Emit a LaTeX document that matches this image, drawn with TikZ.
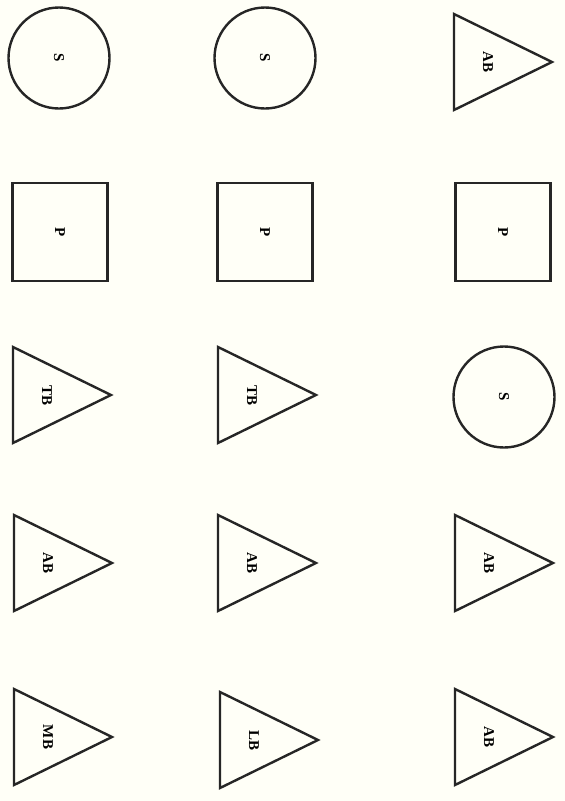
\documentclass[tikz,border=0pt]{standalone}
\usepackage{fontspec}
\setmainfont{Liberation Serif}
\begin{document}
\begin{tikzpicture}[x=1pt,y=-1pt,
  shp/.style={draw=black!85, line width=2.4pt},
  lbl/.style={font=\fontsize{15}{17}\selectfont\bfseries, rotate=-90, inner sep=0pt},
  circ/.style={shp, circle, minimum size=101pt, inner sep=0pt},
  sq/.style={shp, rectangle, minimum width=95pt, minimum height=98pt, inner sep=0pt}]
\useasboundingbox (0,0) rectangle (565,801);
\fill[white!97!yellow] (0,0) rectangle (565,801);
\newcommand{\tri}[4]{%
  \draw[shp, line join=miter] (#1,#2-48) -- (#1+98,#2) -- (#1,#2+48) -- cycle;
  \node[lbl] (#4) at (#1+34,#2) {#3};}
% column 1
\node[circ] (c1) at (59,58) {}; \node[lbl] (s1) at (c1) {S};
\node[sq] (p1) at (60,232) {}; \node[lbl] (pp1) at (p1) {P};
\tri{13}{395}{TB}{t1}
\tri{14}{563}{AB}{a1}
\tri{14}{737}{MB}{m1}
% column 2
\node[circ] (c2) at (265,58) {}; \node[lbl] (s2) at (c2) {S};
\node[sq] (p2) at (265,232) {}; \node[lbl] (pp2) at (p2) {P};
\tri{218}{395}{TB}{t2}
\tri{218}{563}{AB}{a2}
\tri{220}{740}{LB}{l2}
% column 3
\tri{454}{62}{AB}{a3}
\node[sq] (p3) at (503,232) {}; \node[lbl] (pp3) at (p3) {P};
\node[circ] (c3) at (504,397) {}; \node[lbl] (s3) at (c3) {S};
\tri{455}{563}{AB}{a4}
\tri{455}{737}{AB}{a5}
\end{tikzpicture}
\end{document}
